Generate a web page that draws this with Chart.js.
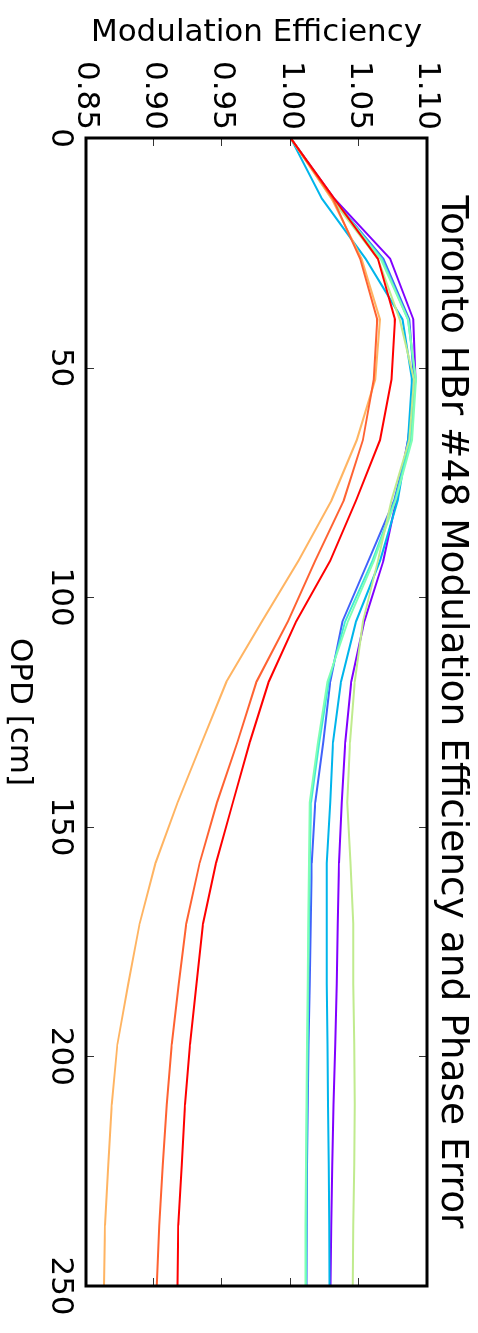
<!DOCTYPE html>
<html>
<head>
<meta charset="utf-8">
<script src="https://cdn.jsdelivr.net/npm/chart.js@4.4.1/dist/chart.umd.min.js"></script>
<style>
  html, body { margin: 0; padding: 0; background: #fff; overflow: hidden; }
  /* the chart is drawn landscape and turned a quarter clockwise */
  #wrap { position: absolute; left: 0; top: 0; width: 1333px; height: 478px;
          transform-origin: 0 0; transform: translate(478px, 0) rotate(90deg); }
</style>
</head>
<body>
<div id="wrap"><canvas id="c" width="1333" height="478"></canvas></div>
<script>
const opd = [0, 13.2, 26.3, 39.5, 52.6, 65.8, 78.9, 92.1, 105.3, 118.4, 131.6, 144.7, 157.9, 171.1, 184.2, 197.4, 210.5, 223.7, 236.8, 250];
const opdTicks = [0, 50, 100, 150, 200, 250];
const effTicks = [0.85, 0.90, 0.95, 1.00, 1.05, 1.10];

const purple = [1.000, 1.032, 1.073, 1.090, 1.0915, 1.086, 1.0775, 1.068, 1.054, 1.0445, 1.040, 1.0375, 1.0355, 1.0345, 1.0338, 1.0328, 1.0315, 1.0305, 1.0298, 1.0292];
const blue = [1.000, 1.031, 1.068, 1.087, 1.0905, 1.087, 1.076, 1.057, 1.038, 1.029, 1.024, 1.018, 1.0155, 1.0148, 1.014, 1.0132, 1.0125, 1.012, 1.0118, 1.0117];
const sky = [1.000, 1.023, 1.055, 1.082, 1.089, 1.086, 1.0785, 1.0655, 1.048, 1.037, 1.031, 1.029, 1.0265, 1.0265, 1.0265, 1.027, 1.0275, 1.028, 1.0283, 1.0285];
const cyan = [1.000, 1.031, 1.067, 1.086, 1.0915, 1.088, 1.0765, 1.060, 1.040, 1.028, 1.021, 1.015, 1.014, 1.0135, 1.013, 1.0125, 1.012, 1.0117, 1.0115, 1.0113];
const aqua = [1.000, 1.031, 1.066, 1.086, 1.092, 1.089, 1.077, 1.061, 1.042, 1.027, 1.020, 1.014, 1.0135, 1.013, 1.0125, 1.012, 1.0117, 1.0113, 1.011, 1.011];
const lightGreen = [1.000, 1.030, 1.064, 1.080, 1.0905, 1.087, 1.074, 1.064, 1.053, 1.047, 1.0435, 1.0415, 1.044, 1.046, 1.046, 1.0467, 1.047, 1.0466, 1.046, 1.0455];
const orange = [1.000, 1.030, 1.052, 1.0655, 1.062, 1.0485, 1.030, 1.0057, 0.979, 0.953, 0.935, 0.9172, 0.901, 0.8893, 0.881, 0.873, 0.8688, 0.8664, 0.8639, 0.8632];
const orangeRed = [1.000, 1.031, 1.051, 1.0635, 1.061, 1.053, 1.039, 1.018, 0.998, 0.975, 0.961, 0.946, 0.9333, 0.9235, 0.918, 0.9128, 0.9092, 0.9062, 0.9037, 0.9018];
const red = [1.000, 1.032, 1.064, 1.0765, 1.074, 1.0655, 1.048, 1.029, 1.004, 0.984, 0.970, 0.9577, 0.9453, 0.9358, 0.931, 0.9262, 0.9226, 0.9202, 0.9177, 0.917];

const series = [purple, blue, sky, cyan, aqua, lightGreen, orange, orangeRed, red];
const colors = ["#8000ff", "#4062fa", "#00b5eb", "#40ebd4", "#80ffb4", "#c0eb8e", "#ffb462", "#ff6232", "#ff0000"];

const font = "'DejaVu Sans', sans-serif";

// matplotlib style box: thick frame and inward ticks on all four sides
const frame = {
  id: "frame",
  afterDatasetsDraw(chart) {
    const { ctx, chartArea: a, scales: { x, y } } = chart;
    ctx.save();
    ctx.strokeStyle = "#333";
    ctx.lineWidth = 1;
    ctx.beginPath();
    opdTicks.forEach(t => {
      const px = Math.round(x.getPixelForValue(t)) + 0.5;
      ctx.moveTo(px, a.bottom); ctx.lineTo(px, a.bottom - 8);
      ctx.moveTo(px, a.top); ctx.lineTo(px, a.top + 8);
    });
    effTicks.forEach(t => {
      const py = Math.round(y.getPixelForValue(t)) + 0.5;
      ctx.moveTo(a.left, py); ctx.lineTo(a.left + 8, py);
      ctx.moveTo(a.right, py); ctx.lineTo(a.right - 8, py);
    });
    ctx.stroke();
    ctx.strokeStyle = "#000";
    ctx.lineWidth = 3;
    ctx.strokeRect(a.left, a.top, a.right - a.left, a.bottom - a.top);
    ctx.restore();
  }
};

new Chart(document.getElementById("c"), {
  type: "line",
  data: {
    datasets: series.map((s, i) => ({
      data: s.map((v, k) => ({ x: opd[k], y: v })),
      borderColor: colors[i],
      borderWidth: 2,
      pointRadius: 0,
      tension: 0,
      fill: false,
      order: series.length - i
    }))
  },
  options: {
    responsive: false,
    animation: false,
    layout: { padding: { right: 47 } },
    plugins: {
      legend: { display: false },
      tooltip: { enabled: false },
      title: {
        display: true,
        fullSize: false,
        text: "Toronto HBr #48 Modulation Efficiency and Phase Error",
        color: "#000",
        font: { family: font, size: 37.5, weight: "normal" },
        padding: { top: 4, bottom: 2 }
      }
    },
    scales: {
      x: {
        type: "linear", min: 0, max: 250,
        afterBuildTicks: s => { s.ticks = opdTicks.map(v => ({ value: v })); },
        afterFit: s => { s.height = 86; },
        grid: { display: false, drawTicks: false },
        border: { display: false },
        ticks: { color: "#000", font: { family: font, size: 31 }, padding: 7, maxRotation: 0 },
        title: { display: true, text: "OPD [cm]", color: "#000", font: { family: font, size: 31 }, padding: { top: 0, bottom: 0 } }
      },
      y: {
        type: "linear", min: 0.85, max: 1.10,
        afterBuildTicks: s => { s.ticks = effTicks.map(v => ({ value: v })); },
        afterFit: s => { s.width = 138; },
        grid: { display: false, drawTicks: false },
        border: { display: false },
        ticks: { color: "#000", font: { family: font, size: 31 }, padding: 8, callback: v => v.toFixed(2) },
        title: { display: true, text: "Modulation Efficiency", color: "#000", font: { family: font, size: 31 }, padding: { top: 14, bottom: 0 } }
      }
    }
  },
  plugins: [frame]
});
</script>
</body>
</html>
